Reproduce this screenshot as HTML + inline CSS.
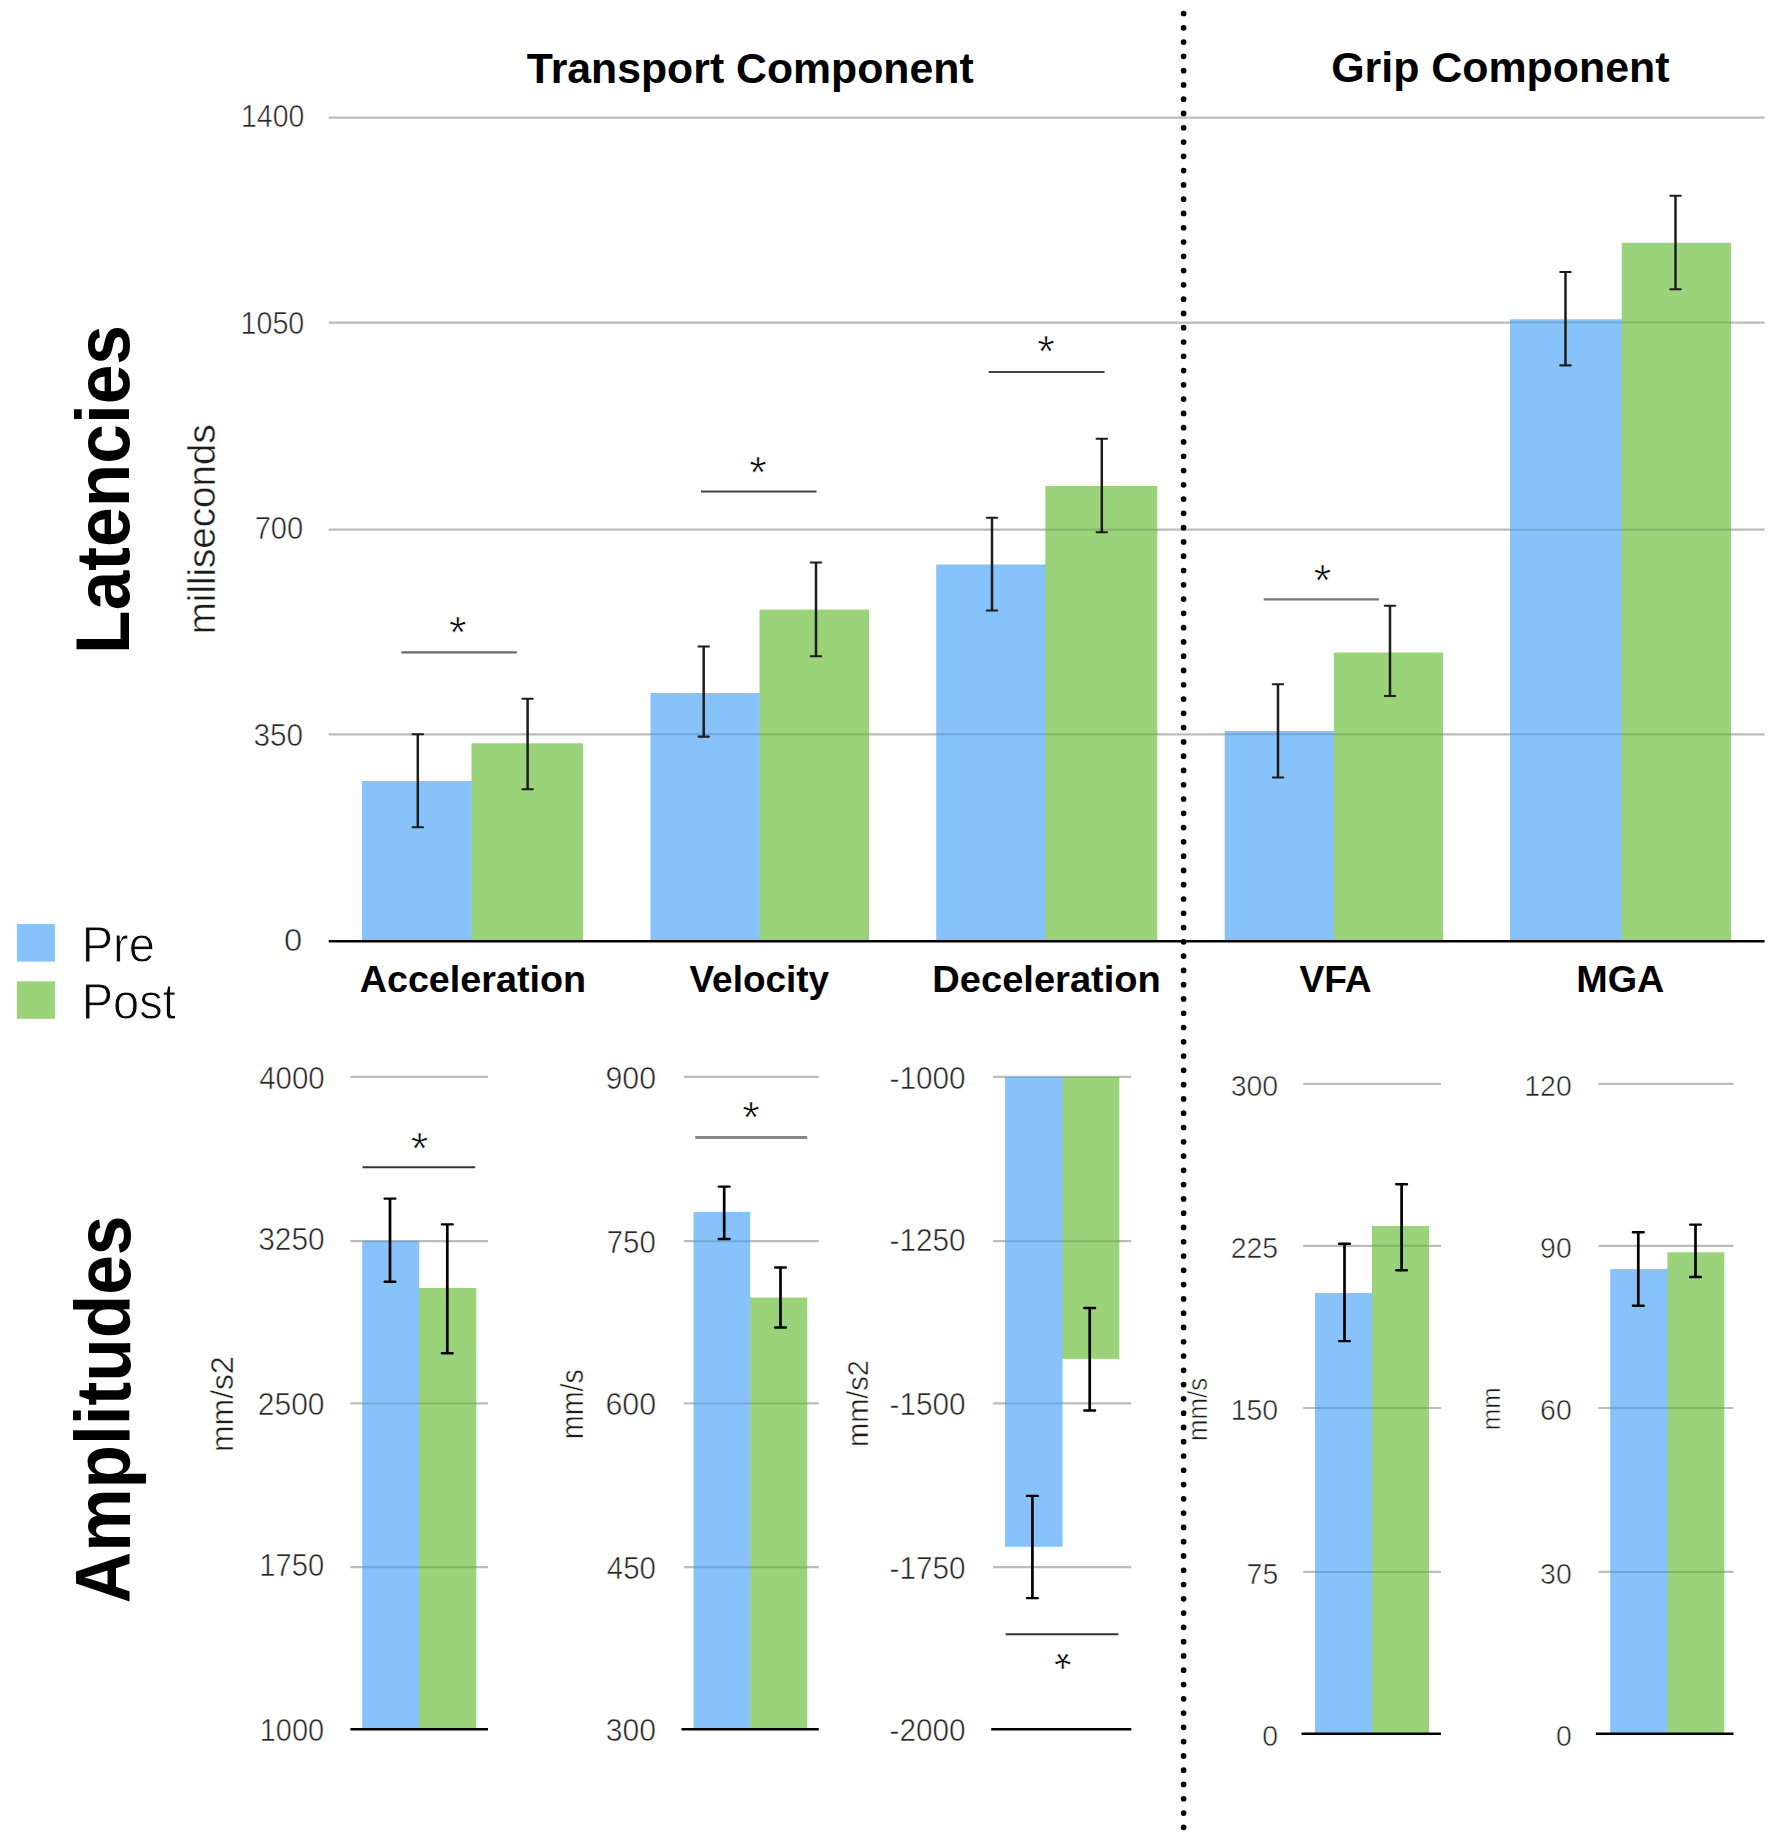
<!DOCTYPE html>
<html><head><meta charset="utf-8"><title>Latencies and Amplitudes</title>
<style>
html,body{margin:0;padding:0;background:#fff}
svg{display:block}
text{font-family:"Liberation Sans",sans-serif}
.bd{font-weight:bold;fill:#000}
.lt{fill:#262626;stroke:#fff;stroke-width:0.55px}
.lt2{fill:#1c1c1c;stroke:#fff;stroke-width:0.45px}
.lt3{fill:#1c1c1c;stroke:#fff;stroke-width:0.5px}
.lg{fill:#0a0a0a;stroke:#fff;stroke-width:0.9px}
.st{fill:#000;stroke:#fff;stroke-width:0.7px}
</style></head><body>
<svg width="1772" height="1833" viewBox="0 0 1772 1833">
<rect width="1772" height="1833" fill="#fff"/>
<defs><clipPath id="bars"><rect x="362" y="781" width="109.5" height="160.2"/><rect x="471.5" y="743.3" width="111.5" height="197.9"/><rect x="650.5" y="693" width="109" height="248.2"/><rect x="759.5" y="609.6" width="109.5" height="331.6"/><rect x="936.2" y="564.5" width="109.1" height="376.7"/><rect x="1045.3" y="486" width="112" height="455.2"/><rect x="1224.7" y="731" width="109.1" height="210.2"/><rect x="1333.8" y="652.5" width="109.2" height="288.7"/><rect x="1510" y="319.3" width="111.7" height="621.9"/><rect x="1621.7" y="242.8" width="109.3" height="698.4"/><rect x="362.2" y="1240.8" width="57" height="488.5"/><rect x="419.2" y="1287.9" width="57.1" height="441.4"/><rect x="693.5" y="1211.9" width="56.7" height="517.4"/><rect x="750.2" y="1297.5" width="57" height="431.8"/><rect x="1005.1" y="1076.9" width="57.5" height="469.9"/><rect x="1062.6" y="1076.9" width="56.7" height="282"/><rect x="1314.9" y="1292.9" width="57.1" height="440.8"/><rect x="1372" y="1225.9" width="57" height="507.8"/><rect x="1610.2" y="1269.1" width="57.2" height="464.6"/><rect x="1667.4" y="1252.3" width="56.9" height="481.4"/></clipPath></defs>
<line x1="328.7" y1="117.6" x2="1764.6" y2="117.6" stroke="#bcbcbc" stroke-width="2.2"/>
<line x1="328.7" y1="322.55" x2="1764.6" y2="322.55" stroke="#bcbcbc" stroke-width="2.2"/>
<line x1="328.7" y1="529.7" x2="1764.6" y2="529.7" stroke="#bcbcbc" stroke-width="2.2"/>
<line x1="328.7" y1="734.3" x2="1764.6" y2="734.3" stroke="#bcbcbc" stroke-width="2.2"/>
<rect x="362" y="781" width="110.5" height="160.2" fill="#87C3FA"/>
<rect x="471.5" y="743.3" width="111.5" height="197.9" fill="#9BD37B"/>
<rect x="650.5" y="693" width="110" height="248.2" fill="#87C3FA"/>
<rect x="759.5" y="609.6" width="109.5" height="331.6" fill="#9BD37B"/>
<rect x="936.2" y="564.5" width="110.1" height="376.7" fill="#87C3FA"/>
<rect x="1045.3" y="486" width="112" height="455.2" fill="#9BD37B"/>
<rect x="1224.7" y="731" width="110.1" height="210.2" fill="#87C3FA"/>
<rect x="1333.8" y="652.5" width="109.2" height="288.7" fill="#9BD37B"/>
<rect x="1510" y="319.3" width="112.7" height="621.9" fill="#87C3FA"/>
<rect x="1621.7" y="242.8" width="109.3" height="698.4" fill="#9BD37B"/>
<line x1="328.7" y1="941.2" x2="1764.6" y2="941.2" stroke="#000" stroke-width="2.6"/>
<path d="M417.8 734.3V827.2" stroke="#1c1c1c" stroke-width="2.5" fill="none"/>
<path d="M412.6 734.3h10.4M412.6 827.2h10.4" stroke="#1c1c1c" stroke-width="2.1" stroke-linecap="round" fill="none"/>
<path d="M527.6 698.7V789.2" stroke="#1c1c1c" stroke-width="2.5" fill="none"/>
<path d="M522.4 698.7h10.4M522.4 789.2h10.4" stroke="#1c1c1c" stroke-width="2.1" stroke-linecap="round" fill="none"/>
<path d="M703.7 646.5V736.6" stroke="#1c1c1c" stroke-width="2.5" fill="none"/>
<path d="M698.5 646.5h10.4M698.5 736.6h10.4" stroke="#1c1c1c" stroke-width="2.1" stroke-linecap="round" fill="none"/>
<path d="M816 562.5V656.3" stroke="#1c1c1c" stroke-width="2.5" fill="none"/>
<path d="M810.8 562.5h10.4M810.8 656.3h10.4" stroke="#1c1c1c" stroke-width="2.1" stroke-linecap="round" fill="none"/>
<path d="M992 517.7V610.5" stroke="#1c1c1c" stroke-width="2.5" fill="none"/>
<path d="M986.8 517.7h10.4M986.8 610.5h10.4" stroke="#1c1c1c" stroke-width="2.1" stroke-linecap="round" fill="none"/>
<path d="M1101.8 438.8V532.3" stroke="#1c1c1c" stroke-width="2.5" fill="none"/>
<path d="M1096.6 438.8h10.4M1096.6 532.3h10.4" stroke="#1c1c1c" stroke-width="2.1" stroke-linecap="round" fill="none"/>
<path d="M1278 684.3V777.5" stroke="#1c1c1c" stroke-width="2.5" fill="none"/>
<path d="M1272.8 684.3h10.4M1272.8 777.5h10.4" stroke="#1c1c1c" stroke-width="2.1" stroke-linecap="round" fill="none"/>
<path d="M1390 605.8V696" stroke="#1c1c1c" stroke-width="2.5" fill="none"/>
<path d="M1384.8 605.8h10.4M1384.8 696h10.4" stroke="#1c1c1c" stroke-width="2.1" stroke-linecap="round" fill="none"/>
<path d="M1565.5 272V365.4" stroke="#1c1c1c" stroke-width="2.5" fill="none"/>
<path d="M1560.3 272h10.4M1560.3 365.4h10.4" stroke="#1c1c1c" stroke-width="2.1" stroke-linecap="round" fill="none"/>
<path d="M1675.5 195.7V289.2" stroke="#1c1c1c" stroke-width="2.5" fill="none"/>
<path d="M1670.3 195.7h10.4M1670.3 289.2h10.4" stroke="#1c1c1c" stroke-width="2.1" stroke-linecap="round" fill="none"/>
<line x1="401.3" y1="652.3" x2="516.7" y2="652.3" stroke="#6a6a6a" stroke-width="2.3"/>
<text x="449.03" y="648.26" font-size="45" class="st">*</text>
<line x1="701" y1="491.5" x2="816.5" y2="491.5" stroke="#444" stroke-width="2"/>
<text x="749.33" y="487.56" font-size="45" class="st">*</text>
<line x1="988.7" y1="372" x2="1104.5" y2="372" stroke="#444" stroke-width="2"/>
<text x="1037.22" y="367.06" font-size="45" class="st">*</text>
<line x1="1263.7" y1="599.4" x2="1378.8" y2="599.4" stroke="#777" stroke-width="2.4"/>
<text x="1313.82" y="595.66" font-size="45" class="st">*</text>
<text transform="translate(241.07 127.02) scale(0.9277 1)" font-size="30.6" class="lt">1400</text>
<text transform="translate(240.55 334.22) scale(0.9370 1)" font-size="30.6" class="lt">1050</text>
<text transform="translate(254.67 539.02) scale(0.9509 1)" font-size="30.6" class="lt">700</text>
<text transform="translate(253.39 746.02) scale(0.9706 1)" font-size="30.6" class="lt">350</text>
<text transform="translate(284.09 951.22) scale(1.0677 1)" font-size="30.6" class="lt">0</text>
<text transform="translate(526.87 82.8) scale(0.9903 1)" font-size="43.2" class="bd">Transport Component</text>
<text transform="translate(1331.18 82.3) scale(0.9897 1)" font-size="43.35" class="bd">Grip Component</text>
<text transform="translate(359.66 991.8) scale(1.0377 1)" font-size="36.36" class="bd">Acceleration</text>
<text transform="translate(689.52 991.8) scale(1.0161 1)" font-size="36.36" class="bd">Velocity</text>
<text transform="translate(932.33 991.8) scale(1.0476 1)" font-size="36.36" class="bd">Deceleration</text>
<text transform="translate(1299.42 991.8) scale(1.0223 1)" font-size="36.36" class="bd">VFA</text>
<text transform="translate(1576.25 991.8) scale(1.0373 1)" font-size="36.36" class="bd">MGA</text>
<text transform="translate(129.2 653.91) rotate(-90) scale(0.9284 1)" font-size="76.8" class="bd">Latencies</text>
<text transform="translate(129.6 1603.28) rotate(-90) scale(0.9220 1)" font-size="77.24" class="bd">Amplitudes</text>
<text transform="translate(215 634.3) rotate(-90) scale(1.0020 1)" font-size="38.5" class="lt2">milliseconds</text>
<rect x="16.9" y="924.1" width="38" height="37.5" fill="#87C3FA"/>
<rect x="16.9" y="981.3" width="38" height="37.5" fill="#9BD37B"/>
<text transform="translate(81.72 961.6) scale(0.9558 1)" font-size="49.16" class="lg">Pre</text>
<text transform="translate(81.72 1018.9) scale(0.9563 1)" font-size="49.16" class="lg">Post</text>
<line x1="1183.6" y1="13.5" x2="1183.6" y2="1827.6" stroke="#000" stroke-width="5.7" stroke-dasharray="0 14.282" stroke-linecap="round"/>
<line x1="350.4" y1="1076.9" x2="488" y2="1076.9" stroke="#bcbcbc" stroke-width="2.2"/>
<line x1="350.4" y1="1241.2" x2="488" y2="1241.2" stroke="#bcbcbc" stroke-width="2.2"/>
<line x1="350.4" y1="1403.4" x2="488" y2="1403.4" stroke="#bcbcbc" stroke-width="2.2"/>
<line x1="350.4" y1="1567.2" x2="488" y2="1567.2" stroke="#bcbcbc" stroke-width="2.2"/>
<rect x="418.2" y="1287.9" width="58.1" height="441.4" fill="#9BD37B"/>
<rect x="362.2" y="1240.8" width="57" height="488.5" fill="#87C3FA"/>
<line x1="350.4" y1="1729.3" x2="488" y2="1729.3" stroke="#000" stroke-width="2.6"/>
<path d="M390 1198.6V1281.8" stroke="#000" stroke-width="2.7" fill="none"/>
<path d="M384.6 1198.6h10.8M384.6 1281.8h10.8" stroke="#000" stroke-width="2.4" stroke-linecap="round" fill="none"/>
<path d="M447.3 1224.4V1353.3" stroke="#000" stroke-width="2.7" fill="none"/>
<path d="M441.9 1224.4h10.8M441.9 1353.3h10.8" stroke="#000" stroke-width="2.4" stroke-linecap="round" fill="none"/>
<text transform="translate(259.14 1088.52) scale(0.9626 1)" font-size="30.6" class="lt">4000</text>
<text transform="translate(258.18 1250.32) scale(0.9770 1)" font-size="30.6" class="lt">3250</text>
<text transform="translate(257.8 1414.72) scale(0.9812 1)" font-size="30.6" class="lt">2500</text>
<text transform="translate(259.31 1576.32) scale(0.9525 1)" font-size="30.6" class="lt">1750</text>
<text transform="translate(259.73 1740.52) scale(0.9463 1)" font-size="30.6" class="lt">1000</text>
<line x1="362.5" y1="1167.2" x2="475.2" y2="1167.2" stroke="#333" stroke-width="2"/>
<text x="410.83" y="1164.16" font-size="45" class="st">*</text>
<text transform="translate(233 1452.06) rotate(-90) scale(1.0307 1)" font-size="31" class="lt2">mm/s2</text>
<line x1="684" y1="1076.9" x2="818.8" y2="1076.9" stroke="#bcbcbc" stroke-width="2.2"/>
<line x1="684" y1="1241.2" x2="818.8" y2="1241.2" stroke="#bcbcbc" stroke-width="2.2"/>
<line x1="684" y1="1403.4" x2="818.8" y2="1403.4" stroke="#bcbcbc" stroke-width="2.2"/>
<line x1="684" y1="1567.2" x2="818.8" y2="1567.2" stroke="#bcbcbc" stroke-width="2.2"/>
<rect x="749.2" y="1297.5" width="58" height="431.8" fill="#9BD37B"/>
<rect x="693.5" y="1211.9" width="56.7" height="517.4" fill="#87C3FA"/>
<line x1="681.5" y1="1729.3" x2="818.8" y2="1729.3" stroke="#000" stroke-width="2.6"/>
<path d="M724.2 1186.6V1239" stroke="#000" stroke-width="2.7" fill="none"/>
<path d="M718.8 1186.6h10.8M718.8 1239h10.8" stroke="#000" stroke-width="2.4" stroke-linecap="round" fill="none"/>
<path d="M780.5 1267.5V1327.5" stroke="#000" stroke-width="2.7" fill="none"/>
<path d="M775.1 1267.5h10.8M775.1 1327.5h10.8" stroke="#000" stroke-width="2.4" stroke-linecap="round" fill="none"/>
<text transform="translate(605.46 1088.72) scale(0.9912 1)" font-size="30.6" class="lt">900</text>
<text transform="translate(606.76 1252.62) scale(0.9612 1)" font-size="30.6" class="lt">750</text>
<text transform="translate(605.38 1414.82) scale(0.9928 1)" font-size="30.6" class="lt">600</text>
<text transform="translate(606.84 1578.62) scale(0.9636 1)" font-size="30.6" class="lt">450</text>
<text transform="translate(605.77 1740.72) scale(0.9850 1)" font-size="30.6" class="lt">300</text>
<line x1="695.3" y1="1137.5" x2="807.2" y2="1137.5" stroke="#888" stroke-width="3"/>
<text x="742.23" y="1133.46" font-size="45" class="st">*</text>
<text transform="translate(583.2 1439.13) rotate(-90) scale(0.9240 1)" font-size="31" class="lt2">mm/s</text>
<line x1="993.2" y1="1076.9" x2="1131.3" y2="1076.9" stroke="#bcbcbc" stroke-width="2.2"/>
<line x1="993.2" y1="1241.2" x2="1131.3" y2="1241.2" stroke="#bcbcbc" stroke-width="2.2"/>
<line x1="993.2" y1="1403.4" x2="1131.3" y2="1403.4" stroke="#bcbcbc" stroke-width="2.2"/>
<line x1="993.2" y1="1567.2" x2="1131.3" y2="1567.2" stroke="#bcbcbc" stroke-width="2.2"/>
<rect x="1061.6" y="1076.9" width="57.7" height="282" fill="#9BD37B"/>
<rect x="1005.1" y="1076.9" width="57.5" height="469.9" fill="#87C3FA"/>
<line x1="991.2" y1="1729.3" x2="1131.3" y2="1729.3" stroke="#000" stroke-width="2.6"/>
<path d="M1032.4 1495.9V1598.1" stroke="#000" stroke-width="2.7" fill="none"/>
<path d="M1027 1495.9h10.8M1027 1598.1h10.8" stroke="#000" stroke-width="2.4" stroke-linecap="round" fill="none"/>
<path d="M1089.7 1308V1410.5" stroke="#000" stroke-width="2.7" fill="none"/>
<path d="M1084.3 1308h10.8M1084.3 1410.5h10.8" stroke="#000" stroke-width="2.4" stroke-linecap="round" fill="none"/>
<text transform="translate(889.56 1088.72) scale(0.9718 1)" font-size="30.6" class="lt">-1000</text>
<text transform="translate(889.56 1251.12) scale(0.9718 1)" font-size="30.6" class="lt">-1250</text>
<text transform="translate(889.56 1414.82) scale(0.9718 1)" font-size="30.6" class="lt">-1500</text>
<text transform="translate(889.57 1578.62) scale(0.9692 1)" font-size="30.6" class="lt">-1750</text>
<text transform="translate(889.56 1740.72) scale(0.9718 1)" font-size="30.6" class="lt">-2000</text>
<line x1="1005.6" y1="1634.2" x2="1118.3" y2="1634.2" stroke="#333" stroke-width="2"/>
<text x="1053.92" y="1684.06" font-size="45" class="st" transform="rotate(180 1062.7 1661)">*</text>
<text transform="translate(867.5 1446.96) rotate(-90) scale(0.9820 1)" font-size="29.5" class="lt2">mm/s2</text>
<line x1="1303.3" y1="1083.9" x2="1441" y2="1083.9" stroke="#bcbcbc" stroke-width="2.2"/>
<line x1="1303.3" y1="1245.8" x2="1441" y2="1245.8" stroke="#bcbcbc" stroke-width="2.2"/>
<line x1="1303.3" y1="1408" x2="1441" y2="1408" stroke="#bcbcbc" stroke-width="2.2"/>
<line x1="1303.3" y1="1571.9" x2="1441" y2="1571.9" stroke="#bcbcbc" stroke-width="2.2"/>
<rect x="1314.9" y="1292.9" width="58.1" height="440.8" fill="#87C3FA"/>
<rect x="1372" y="1225.9" width="57" height="507.8" fill="#9BD37B"/>
<line x1="1301.5" y1="1733.7" x2="1441" y2="1733.7" stroke="#000" stroke-width="2.6"/>
<path d="M1344.5 1243.7V1341.1" stroke="#000" stroke-width="2.7" fill="none"/>
<path d="M1339.1 1243.7h10.8M1339.1 1341.1h10.8" stroke="#000" stroke-width="2.4" stroke-linecap="round" fill="none"/>
<path d="M1401.6 1184.2V1270.2" stroke="#000" stroke-width="2.7" fill="none"/>
<path d="M1396.2 1184.2h10.8M1396.2 1270.2h10.8" stroke="#000" stroke-width="2.4" stroke-linecap="round" fill="none"/>
<text transform="translate(1230.68 1095.87) scale(0.9800 1)" font-size="29" class="lt">300</text>
<text transform="translate(1230.75 1257.77) scale(0.9800 1)" font-size="29" class="lt">225</text>
<text transform="translate(1230.68 1419.97) scale(0.9800 1)" font-size="29" class="lt">150</text>
<text transform="translate(1246.59 1583.87) scale(0.9800 1)" font-size="29" class="lt">75</text>
<text transform="translate(1262.29 1745.67) scale(0.9800 1)" font-size="29" class="lt">0</text>
<text transform="translate(1207.4 1441.05) rotate(-90) scale(0.9355 1)" font-size="27.7" class="lt3">mm/s</text>
<line x1="1598.4" y1="1083.9" x2="1733.5" y2="1083.9" stroke="#bcbcbc" stroke-width="2.2"/>
<line x1="1598.4" y1="1245.8" x2="1733.5" y2="1245.8" stroke="#bcbcbc" stroke-width="2.2"/>
<line x1="1598.4" y1="1408" x2="1733.5" y2="1408" stroke="#bcbcbc" stroke-width="2.2"/>
<line x1="1598.4" y1="1571.9" x2="1733.5" y2="1571.9" stroke="#bcbcbc" stroke-width="2.2"/>
<rect x="1610.2" y="1269.1" width="58.2" height="464.6" fill="#87C3FA"/>
<rect x="1667.4" y="1252.3" width="56.9" height="481.4" fill="#9BD37B"/>
<line x1="1595.8" y1="1733.7" x2="1733.5" y2="1733.7" stroke="#000" stroke-width="2.6"/>
<path d="M1638.3 1232.2V1305.8" stroke="#000" stroke-width="2.7" fill="none"/>
<path d="M1632.9 1232.2h10.8M1632.9 1305.8h10.8" stroke="#000" stroke-width="2.4" stroke-linecap="round" fill="none"/>
<path d="M1695.5 1224.6V1277" stroke="#000" stroke-width="2.7" fill="none"/>
<path d="M1690.1 1224.6h10.8M1690.1 1277h10.8" stroke="#000" stroke-width="2.4" stroke-linecap="round" fill="none"/>
<text transform="translate(1524.28 1095.87) scale(0.9800 1)" font-size="29" class="lt">120</text>
<text transform="translate(1540.12 1257.77) scale(0.9800 1)" font-size="29" class="lt">90</text>
<text transform="translate(1540.12 1419.97) scale(0.9800 1)" font-size="29" class="lt">60</text>
<text transform="translate(1540.12 1583.87) scale(0.9800 1)" font-size="29" class="lt">30</text>
<text transform="translate(1555.89 1745.67) scale(0.9800 1)" font-size="29" class="lt">0</text>
<text transform="translate(1500.1 1430.35) rotate(-90) scale(0.9702 1)" font-size="26.7" class="lt3">mm</text>
<g clip-path="url(#bars)" stroke="rgba(0,0,0,0.145)" stroke-width="2"><line x1="328.7" y1="117.6" x2="1764.6" y2="117.6"/><line x1="328.7" y1="322.55" x2="1764.6" y2="322.55"/><line x1="328.7" y1="529.7" x2="1764.6" y2="529.7"/><line x1="328.7" y1="734.3" x2="1764.6" y2="734.3"/><line x1="350.4" y1="1076.9" x2="488" y2="1076.9"/><line x1="350.4" y1="1241.2" x2="488" y2="1241.2"/><line x1="350.4" y1="1403.4" x2="488" y2="1403.4"/><line x1="350.4" y1="1567.2" x2="488" y2="1567.2"/><line x1="684" y1="1076.9" x2="818.8" y2="1076.9"/><line x1="684" y1="1241.2" x2="818.8" y2="1241.2"/><line x1="684" y1="1403.4" x2="818.8" y2="1403.4"/><line x1="684" y1="1567.2" x2="818.8" y2="1567.2"/><line x1="993.2" y1="1076.9" x2="1131.3" y2="1076.9"/><line x1="993.2" y1="1241.2" x2="1131.3" y2="1241.2"/><line x1="993.2" y1="1403.4" x2="1131.3" y2="1403.4"/><line x1="993.2" y1="1567.2" x2="1131.3" y2="1567.2"/><line x1="1303.3" y1="1083.9" x2="1441" y2="1083.9"/><line x1="1303.3" y1="1245.8" x2="1441" y2="1245.8"/><line x1="1303.3" y1="1408" x2="1441" y2="1408"/><line x1="1303.3" y1="1571.9" x2="1441" y2="1571.9"/><line x1="1598.4" y1="1083.9" x2="1733.5" y2="1083.9"/><line x1="1598.4" y1="1245.8" x2="1733.5" y2="1245.8"/><line x1="1598.4" y1="1408" x2="1733.5" y2="1408"/><line x1="1598.4" y1="1571.9" x2="1733.5" y2="1571.9"/></g>
</svg>
</body></html>
